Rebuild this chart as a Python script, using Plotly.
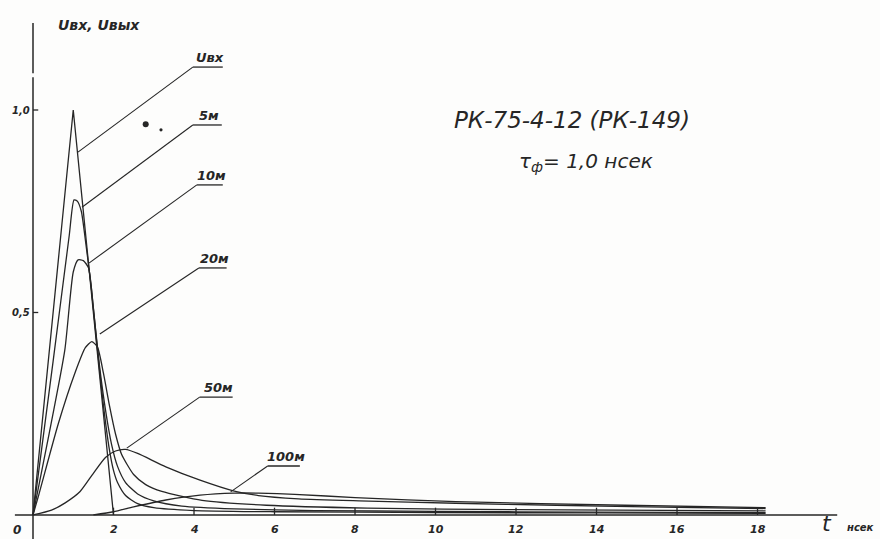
import plotly.graph_objects as go

# Time, ns, and normalised voltage for the input pulse and the outputs
# of cable runs of different length.
t_in = [0, 1, 2]
u_in = [0, 1, 0]

t_5m = [0, 0.5, 0.9, 1.02, 1.1, 1.2, 1.3, 1.45, 1.6, 1.75, 1.9, 2.0, 2.1, 2.3, 2.6, 3.0, 4.0, 6, 10, 14, 18.2]
u_5m = [0, 0.38, 0.69, 0.778, 0.775, 0.75, 0.68, 0.56, 0.41, 0.27, 0.16, 0.11, 0.08, 0.048, 0.028, 0.018, 0.011, 0.008, 0.006, 0.005, 0.004]

t_10m = [0, 0.4, 0.79, 1.0, 1.12, 1.25, 1.38, 1.5, 1.65, 1.8, 1.95, 2.1, 2.3, 2.6, 3.0, 3.7, 5, 7, 10, 14, 18.2]
u_10m = [0, 0.2, 0.407, 0.6, 0.63, 0.628, 0.61, 0.51, 0.37, 0.26, 0.175, 0.12, 0.08, 0.052, 0.035, 0.022, 0.015, 0.011, 0.009, 0.007, 0.006]

t_20m = [0, 0.13, 0.63, 1.04, 1.3, 1.46, 1.6, 1.75, 1.9, 2.05, 2.2, 2.5, 2.8, 3.2, 4.2, 5.8, 8.3, 12, 18.2]
u_20m = [0, 0.045, 0.226, 0.35, 0.413, 0.428, 0.415, 0.35, 0.27, 0.2, 0.15, 0.1, 0.075, 0.058, 0.036, 0.024, 0.017, 0.013, 0.01]

t_50m = [0, 0.46, 0.8, 1.17, 1.5, 1.8, 2.05, 2.3, 2.6, 3.3, 4.15, 5.0, 5.6, 6.6, 8.1, 10.5, 13, 16, 18.2]
u_50m = [0, 0.012, 0.03, 0.058, 0.103, 0.142, 0.158, 0.162, 0.152, 0.119, 0.086, 0.059, 0.048, 0.04, 0.035, 0.029, 0.024, 0.019, 0.016]

t_100m = [1.5, 2.0, 2.5, 3.3, 4.15, 5.0, 5.6, 6.5, 8, 10.5, 14.7, 18.2]
u_100m = [0, 0.008, 0.02, 0.037, 0.049, 0.054, 0.054, 0.051, 0.043, 0.033, 0.024, 0.018]

curves = [
    (t_in, u_in, "linear"),
    (t_5m, u_5m, "spline"),
    (t_10m, u_10m, "spline"),
    (t_20m, u_20m, "spline"),
    (t_50m, u_50m, "spline"),
    (t_100m, u_100m, "spline"),
]

# Curve captions: text, leader start (on the curve), underline left/right ends
cap_text = ["Uвх", "5м", "10м", "20м", "50м", "100м"]
cap_tip_t = [1.117, 1.216, 1.39, 1.66, 2.33, 4.91]
cap_tip_u = [0.896, 0.760, 0.622, 0.447, 0.165, 0.057]
cap_left_t = [3.97, 3.97, 4.07, 4.12, 4.14, 5.83]
cap_right_t = [4.715, 4.69, 4.715, 4.81, 4.96, 6.63]
cap_u = [1.106, 0.963, 0.815, 0.61, 0.291, 0.121]

x_ticks = [2, 4, 6, 8, 10, 12, 14, 16, 18]
x_tick_text = ["2", "4", "6", "8", "10", "12", "14", "16", "18"]
y_ticks = [1.0, 0.5]
y_tick_text = ["1,0", "0,5"]

INK = "#262626"
FONT = "DejaVu Sans"

fig = go.Figure()
for t, u, shape in curves:
    fig.add_trace(go.Scatter(
        x=t, y=u, mode="lines",
        line=dict(color=INK, width=1.3, shape=shape, smoothing=0.6),
        hoverinfo="skip", showlegend=False,
    ))

shapes = []
line_style = dict(color=INK, width=1.5)
# axes drawn by hand
shapes.append(dict(type="line", xref="x", yref="y", x0=-0.45, x1=19.98, y0=0, y1=0, line=line_style))
shapes.append(dict(type="line", xref="x", yref="y", x0=0, x1=0, y0=1.215, y1=1.091, line=line_style))
shapes.append(dict(type="line", xref="x", yref="y", x0=0, x1=0, y0=1.081, y1=-0.06, line=line_style))
for xt in x_ticks:
    shapes.append(dict(type="line", xref="x", yref="y", x0=xt, x1=xt, y0=0, y1=0.018, line=dict(color=INK, width=1.3)))
for yt in y_ticks:
    shapes.append(dict(type="line", xref="x", yref="y", x0=0, x1=0.13, y0=yt, y1=yt, line=dict(color=INK, width=1.3)))

annotations = []
for txt, tt, tu, lt, rt, cu in zip(cap_text, cap_tip_t, cap_tip_u, cap_left_t, cap_right_t, cap_u):
    shapes.append(dict(type="line", xref="x", yref="y", x0=tt, y0=tu, x1=lt, y1=cu, line=dict(color=INK, width=1.1)))
    shapes.append(dict(type="line", xref="x", yref="y", x0=lt, y0=cu, x1=rt, y1=cu, line=dict(color=INK, width=1.3)))
    annotations.append(dict(
        x=(lt + rt) / 2 + 0.05, y=cu, xref="x", yref="y", text=txt, showarrow=False,
        xanchor="center", yanchor="bottom",
        font=dict(family=FONT, size=13, color=INK, style="italic", weight="bold"),
    ))

for xt, lab in zip(x_ticks, x_tick_text):
    annotations.append(dict(
        x=xt, y=-0.037, xref="x", yref="y", text=lab, showarrow=False,
        xanchor="center", yanchor="middle",
        font=dict(family=FONT, size=11, color=INK, style="italic", weight="bold"),
    ))
annotations.append(dict(
    x=-0.4, y=-0.037, xref="x", yref="y", text="0", showarrow=False,
    xanchor="center", yanchor="middle",
    font=dict(family=FONT, size=12, color=INK, style="italic", weight="bold"),
))
for yt, lab in zip(y_ticks, y_tick_text):
    annotations.append(dict(
        x=-0.02, y=yt, xref="x", yref="y", text=lab, showarrow=False,
        xanchor="right", yanchor="middle",
        font=dict(family=FONT, size=10, color=INK, style="italic", weight="bold"),
    ))

# axis titles
annotations.append(dict(
    x=0.58, y=1.209, xref="x", yref="y", text="Uвх, Uвых", showarrow=False,
    xanchor="left", yanchor="middle",
    font=dict(family=FONT, size=14, color=INK, style="italic", weight="bold"),
))
annotations.append(dict(
    x=19.72, y=-0.022, xref="x", yref="y", text="t", showarrow=False,
    xanchor="center", yanchor="middle",
    font=dict(family=FONT, size=22, color=INK, style="italic"),
))
annotations.append(dict(
    x=20.55, y=-0.03, xref="x", yref="y", text="нсек", showarrow=False,
    xanchor="center", yanchor="middle",
    font=dict(family=FONT, size=10, color=INK, style="italic", weight="bold"),
))

# cable type and rise time
annotations.append(dict(
    x=13.4, y=0.975, xref="x", yref="y", text="РК-75-4-12 (РК-149)", showarrow=False,
    xanchor="center", yanchor="middle",
    font=dict(family=FONT, size=23, color=INK, style="italic"),
))
annotations.append(dict(
    x=13.75, y=0.872, xref="x", yref="y", text="τ<sub>ф</sub>= 1,0 нсек", showarrow=False,
    xanchor="center", yanchor="middle",
    font=dict(family=FONT, size=20, color=INK, style="italic"),
))

# two ink specks
shapes.append(dict(type="circle", xref="x", yref="y", xsizemode="pixel", ysizemode="pixel",
                   xanchor=2.80, yanchor=0.965, x0=-3, x1=3, y0=-3, y1=3,
                   fillcolor=INK, line=dict(width=0)))
shapes.append(dict(type="circle", xref="x", yref="y", xsizemode="pixel", ysizemode="pixel",
                   xanchor=3.18, yanchor=0.951, x0=-1.6, x1=1.6, y0=-1.6, y1=1.6,
                   fillcolor=INK, line=dict(width=0)))

fig.update_layout(
    width=880, height=539,
    margin=dict(l=0, r=0, t=0, b=0),
    paper_bgcolor="#fdfdfc", plot_bgcolor="#fdfdfc",
    xaxis=dict(range=[-0.8199, 21.043], visible=False, fixedrange=True),
    yaxis=dict(range=[-0.0593, 1.2716], visible=False, fixedrange=True),
    shapes=shapes, annotations=annotations,
    showlegend=False,
)

fig.write_html("out.html")
